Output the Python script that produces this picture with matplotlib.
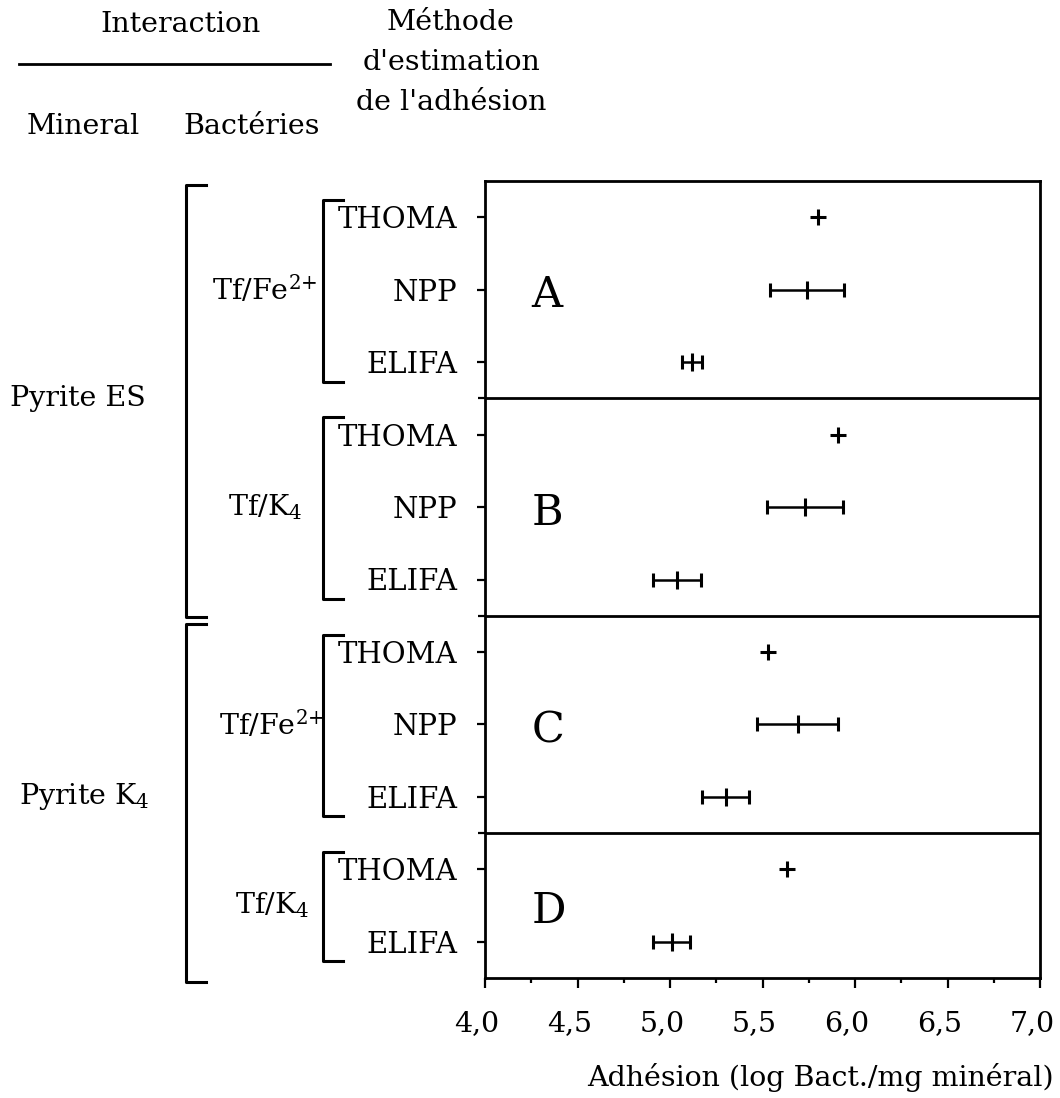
import matplotlib
matplotlib.use("Agg")
import matplotlib.pyplot as plt
from matplotlib.lines import Line2D
from matplotlib.transforms import blended_transform_factory, ScaledTranslation

# ---- data -------------------------------------------------------------
panel_letters = ["A", "B", "C", "D"]
minerals = ["Pyrite ES", "Pyrite K$_4$"]
mineral_panels = [[0, 1], [2, 3]]
bacteria = ["Tf/Fe$^{2{+}}$", "Tf/K$_4$", "Tf/Fe$^{2{+}}$", "Tf/K$_4$"]
methods = [
    ["THOMA", "NPP", "ELIFA"],
    ["THOMA", "NPP", "ELIFA"],
    ["THOMA", "NPP", "ELIFA"],
    ["THOMA", "ELIFA"],
]
adhesion = [
    [5.80, 5.74, 5.12],
    [5.91, 5.73, 5.04],
    [5.53, 5.69, 5.30],
    [5.63, 5.01],
]
# half-width of the interval (0 = single count, no interval)
spread = [
    [0.0, 0.20, 0.055],
    [0.0, 0.205, 0.13],
    [0.0, 0.22, 0.125],
    [0.0, 0.10],
]
x_ticks = [4.0, 4.5, 5.0, 5.5, 6.0, 6.5, 7.0]
x_tick_labels = ["4,0", "4,5", "5,0", "5,5", "6,0", "6,5", "7,0"]

# ---- style ------------------------------------------------------------
plt.rcParams["font.family"] = ["DejaVu Serif"]
plt.rcParams["mathtext.fontset"] = "dejavuserif"
FS = 20.5
LW = 2.0

W, H = 1060, 1098
fig = plt.figure(figsize=(W / 100, H / 100), dpi=100)


def fx(px):
    return px / W


def fy(py):
    return 1 - py / H


ax = fig.add_axes([fx(485), fy(978), fx(1040) - fx(485), fy(181) - fy(978)])

# row layout: one row per method, panels stacked top to bottom
row_pos, row_names = [], []
panel_bounds = []
row = 0
for p, meths in enumerate(methods):
    start = row
    for m in meths:
        row_pos.append(row + 0.5)
        row_names.append(m)
        row += 1
    panel_bounds.append((start, row))
n_rows = row

ax.set_xlim(4.0, 7.0)
ax.set_ylim(n_rows, 0)

for (s, e) in panel_bounds[:-1]:
    ax.axhline(e, color="k", lw=LW)

k = 0
for p, meths in enumerate(methods):
    for j, m in enumerate(meths):
        x, y, err = adhesion[p][j], row_pos[k], spread[p][j]
        if err == 0:
            ax.plot(x, y, marker="+", ms=12, mew=2.2, color="k", ls="none")
        else:
            ax.errorbar(x, y, xerr=err, fmt="none", ecolor="k",
                        elinewidth=1.8, capsize=4.7, capthick=2.2)
            ax.plot(x, y, marker="|", ms=13, mew=2.2, color="k", ls="none")
        k += 1
    s, e = panel_bounds[p]
    ax.text(4.25, (s + e) / 2 + 0.08, panel_letters[p], fontsize=31,
            ha="left", va="center")

for sp in ax.spines.values():
    sp.set_linewidth(LW)

ax.set_yticks(row_pos)
ax.set_yticklabels(row_names, fontsize=21)
ax.set_yticks([b for (_, b) in panel_bounds[:-1]], minor=True)
ax.tick_params(axis="y", which="major", direction="out", length=6,
               width=1.6, pad=14)
ax.tick_params(axis="y", which="minor", direction="out", length=5, width=1.6)

ax.set_xticks(x_ticks)
ax.set_xticklabels(x_tick_labels, fontsize=FS)
ax.set_xticks([4.25 + 0.5 * i for i in range(6)], minor=True)
ax.tick_params(axis="x", which="major", direction="out", length=7,
               width=1.6, pad=16)
ax.tick_params(axis="x", which="minor", direction="out", length=3.5,
               width=1.6)
shift = ScaledTranslation(-8 / 100, 0, fig.dpi_scale_trans)
for lab in ax.get_xticklabels():
    lab.set_transform(lab.get_transform() + shift)

fig.text(fx(820), fy(1078), "Adhésion (log Bact./mg minéral)",
         fontsize=FS, ha="center", va="center")

# ---- grouping brackets to the left of the method names ------------------
tr = blended_transform_factory(fig.transFigure, ax.transData)


def bracket(x0, x1, y0, y1):
    line = Line2D([x1, x0, x0, x1], [y0, y0, y1, y1], transform=tr,
                  color="k", lw=2.2, clip_on=False)
    fig.add_artist(line)


bact_x = [265, 265, 272, 272]
for p, (s, e) in enumerate(panel_bounds):
    bracket(fx(323), fx(343), s + 0.26, e - 0.23)
    fig.text(fx(bact_x[p]), (s + e) / 2, bacteria[p], transform=tr,
             fontsize=FS, ha="center", va="center")

mineral_x = [78, 84]
mineral_span = [(0.06, 0.02), (0.12, 0.06)]
for i, panels in enumerate(mineral_panels):
    s = panel_bounds[panels[0]][0]
    e = panel_bounds[panels[-1]][1]
    bracket(fx(186), fx(206), s + mineral_span[i][0], e + mineral_span[i][1])
    fig.text(fx(mineral_x[i]), (s + e) / 2, minerals[i], transform=tr,
             fontsize=FS, ha="center", va="center")

# ---- column headings --------------------------------------------------
fig.text(fx(180), fy(24), "Interaction", fontsize=FS, ha="center", va="center")
fig.add_artist(Line2D([fx(19), fx(330)], [fy(64), fy(64)], color="k", lw=LW))
fig.text(fx(83), fy(126), "Mineral", fontsize=FS, ha="center", va="center")
fig.text(fx(252), fy(126), "Bactéries", fontsize=FS, ha="center", va="center")
fig.text(fx(451), fy(22), "Méthode", fontsize=FS, ha="center", va="center")
fig.text(fx(451), fy(63), "d'estimation", fontsize=FS, ha="center", va="center")
fig.text(fx(451), fy(102), "de l'adhésion", fontsize=FS, ha="center", va="center")

fig.savefig("out.png", dpi=100, facecolor="white")
